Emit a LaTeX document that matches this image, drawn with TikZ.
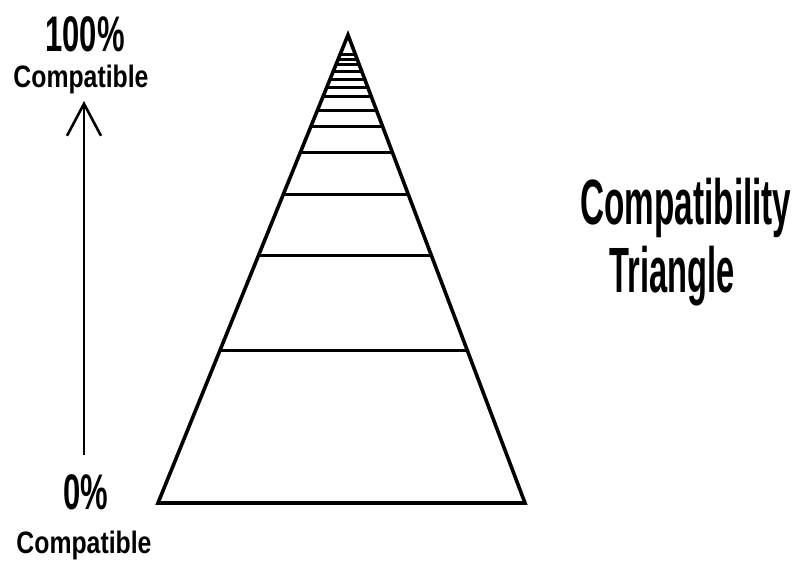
\documentclass[tikz,border=0pt]{standalone}
\usepackage{fontspec}
\usepackage{graphicx}
\setmainfont{Liberation Sans}
\usetikzlibrary{arrows.meta,positioning,calc}
\newcommand{\narrow}[2]{\scalebox{#1}[1]{#2}}

\begin{document}
\begin{tikzpicture}[
  x=1pt,y=-1pt,
  bigpct/.style={inner sep=0pt,font=\fontsize{50}{50}\selectfont\bfseries},
  smalllbl/.style={inner sep=0pt,font=\fontsize{31}{31}\selectfont\bfseries},
  titlelbl/.style={inner sep=0pt,font=\fontsize{64}{64}\selectfont\bfseries},
  edge/.style={line width=3.6pt,line join=miter},
  rung/.style={line width=3pt}
]
  \useasboundingbox (0,0) rectangle (795,564);
  % Labels on the left
  \node[bigpct] (toppct) at (85,34) {\narrow{0.62}{100\%}};
  \node[smalllbl] (topsub) at (81,79) {\narrow{0.8}{Compatible}};
  \node[bigpct] (botpct) at (86,492) {\narrow{0.62}{0\%}};
  \node[smalllbl] (botsub) at (84,545) {\narrow{0.8}{Compatible}};
  % Arrow
  \coordinate (arrowlo) at (84,455);
  \coordinate (arrowhi) at (84,101);
  \draw[line width=2.6pt,-{Straight Barb[length=32pt,width=34pt,line width=2.6pt]}] (arrowlo) -- (arrowhi);
  % Triangle
  \coordinate (apex) at (348,35);
  \coordinate (bl) at (158,503);
  \coordinate (br) at (525,503);
  \draw[edge] (apex) -- (bl) -- (br) -- cycle;
  \foreach \y [evaluate=\y as \t using (\y-35)/468] in {55,60,65,72,80,88,97,111,127,153,195,256,351}
    \draw[rung] ($(apex)!\t!(bl)$) -- ($(apex)!\t!(br)$);
  % Title
  \node[titlelbl] (title1) at (686,208) {\narrow{0.52}{Compatibility}};
  \node[titlelbl] (title2) at (672,276) {\narrow{0.51}{Triangle}};
\end{tikzpicture}
\end{document}
